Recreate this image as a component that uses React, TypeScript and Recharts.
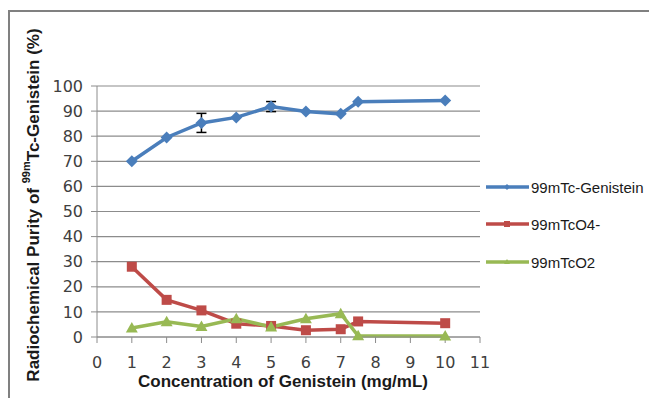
import React from 'react';
import { LineChart, Line, XAxis, YAxis, CartesianGrid, ErrorBar } from 'recharts';

// Values
const concentrations = [1, 2, 3, 4, 5, 6, 7, 7.5, 10];
const genistein = [70, 79.5, 85.3, 87.5, 91.8, 89.8, 88.9, 93.7, 94.2];
const genisteinErr = [null, null, 3.8, null, 2, null, null, null, null];
const pertechnetate = [28, 14.8, 10.6, 5.3, 4.4, 2.7, 3.1, 6.2, 5.5];
const reducedTc = [3.6, 6.1, 4.2, 7.3, 4, 7.3, 9.3, 0.5, 0.4];

const xTicks = [0, 1, 2, 3, 4, 5, 6, 7, 8, 9, 10, 11];
const yTicks = [0, 10, 20, 30, 40, 50, 60, 70, 80, 90, 100];

const seriesNames = ['99mTc-Genistein', '99mTcO4-', '99mTcO2'];
const seriesColors = ['#4a7ebb', '#be4b48', '#98b954'];

const data = concentrations.map((c, i) => ({
  conc: c,
  gen: genistein[i],
  genErr: genisteinErr[i],
  tco4: pertechnetate[i],
  tco2: reducedTc[i],
}));

const tickStyle = { fill: '#404040', fontSize: 16, fontFamily: 'DejaVu Sans' };

const Diamond = (p: any) => {
  const { cx, cy, index } = p;
  const r = 6;
  return (
    <path key={`d-${index}`} d={`M${cx},${cy - r}L${cx + r},${cy}L${cx},${cy + r}L${cx - r},${cy}Z`} fill={seriesColors[0]} />
  );
};

const Square = (p: any) => {
  const { cx, cy, index } = p;
  const s = 10;
  return <rect key={`s-${index}`} x={cx - s / 2} y={cy - s / 2} width={s} height={s} fill={seriesColors[1]} />;
};

const Triangle = (p: any) => {
  const { cx, cy, index } = p;
  const h = 10;
  return (
    <path key={`t-${index}`} d={`M${cx},${cy - h * 0.6}L${cx + 6},${cy + h * 0.45}L${cx - 6},${cy + h * 0.45}Z`} fill={seriesColors[2]} />
  );
};

const YLabel = () => (
  <text
    x={33}
    y={205}
    transform="rotate(-90 33 205)"
    textAnchor="middle"
    dominantBaseline="central"
    fontFamily="Liberation Sans"
    fontWeight="bold"
    fontSize={17}
    fill="#1a1a1a"
  >
    <tspan>Radiochemical  Purity of </tspan>
    <tspan fontSize={11} dy={-7}>99m</tspan>
    <tspan dy={7}>Tc-Genistein  (%)</tspan>
  </text>
);

const XLabel = () => (
  <text x={283} y={387} textAnchor="middle" fontFamily="Liberation Sans" fontWeight="bold" fontSize={17} fill="#1a1a1a">
    Concentration of Genistein (mg/mL)
  </text>
);

const legendY = [187, 224, 262];

const App: React.FC = () => {
  return (
    <div style={{ position: 'absolute', left: 0, top: 0, width: 649, height: 398, background: '#fff', overflow: 'hidden' }}>
      {/* frame */}
      <div style={{ position: 'absolute', left: 8, top: 10, width: 641, height: 2, background: '#808080' }} />
      <div style={{ position: 'absolute', left: 8, top: 10, width: 2, height: 388, background: '#808080' }} />

      <LineChart width={649} height={398} data={data} margin={{ top: 86, right: 169, bottom: 0, left: 0 }}>
        <CartesianGrid vertical={false} stroke="#8c8c8c" strokeWidth={1.2} />
        <XAxis
          dataKey="conc"
          type="number"
          domain={[0, 11]}
          ticks={xTicks}
          interval={0}
          height={61}
          stroke="#8c8c8c"
          tickSize={6}
          tickMargin={14}
          tick={tickStyle}
          label={<XLabel />}
        />
        <YAxis
          type="number"
          domain={[0, 100]}
          ticks={yTicks}
          interval={0}
          width={97}
          stroke="#8c8c8c"
          tickSize={6}
          tickMargin={8}
          tick={tickStyle}
          label={<YLabel />}
        />
        <Line dataKey="gen" name={seriesNames[0]} stroke={seriesColors[0]} strokeWidth={3.5} dot={Diamond} activeDot={false} isAnimationActive={false}>
          <ErrorBar dataKey="genErr" direction="y" width={5} stroke="#000" strokeWidth={1.5} />
        </Line>
        <Line dataKey="tco4" name={seriesNames[1]} stroke={seriesColors[1]} strokeWidth={3.5} dot={Square} activeDot={false} isAnimationActive={false} />
        <Line dataKey="tco2" name={seriesNames[2]} stroke={seriesColors[2]} strokeWidth={3.5} dot={Triangle} activeDot={false} isAnimationActive={false} />
      </LineChart>

      {/* legend */}
      <svg width={649} height={398} style={{ position: 'absolute', left: 0, top: 0, pointerEvents: 'none' }}>
        {seriesNames.map((name, i) => (
          <g key={name}>
            <line x1={486} x2={529} y1={legendY[i]} y2={legendY[i]} stroke={seriesColors[i]} strokeWidth={3.5} />
            {i === 0 && <path d={`M507,${legendY[i] - 3}L510,${legendY[i]}L507,${legendY[i] + 3}L504,${legendY[i]}Z`} fill={seriesColors[i]} />}
            {i === 1 && <rect x={504} y={legendY[i] - 3} width={6} height={6} fill={seriesColors[i]} />}
            {i === 2 && <path d={`M507,${legendY[i] - 3}L510,${legendY[i] + 2}L504,${legendY[i] + 2}Z`} fill={seriesColors[i]} />}
            <text x={531} y={legendY[i]} dominantBaseline="central" fontFamily="Liberation Sans" fontSize={15} fill="#1a1a1a">
              {name}
            </text>
          </g>
        ))}
      </svg>
    </div>
  );
};

export default App;
